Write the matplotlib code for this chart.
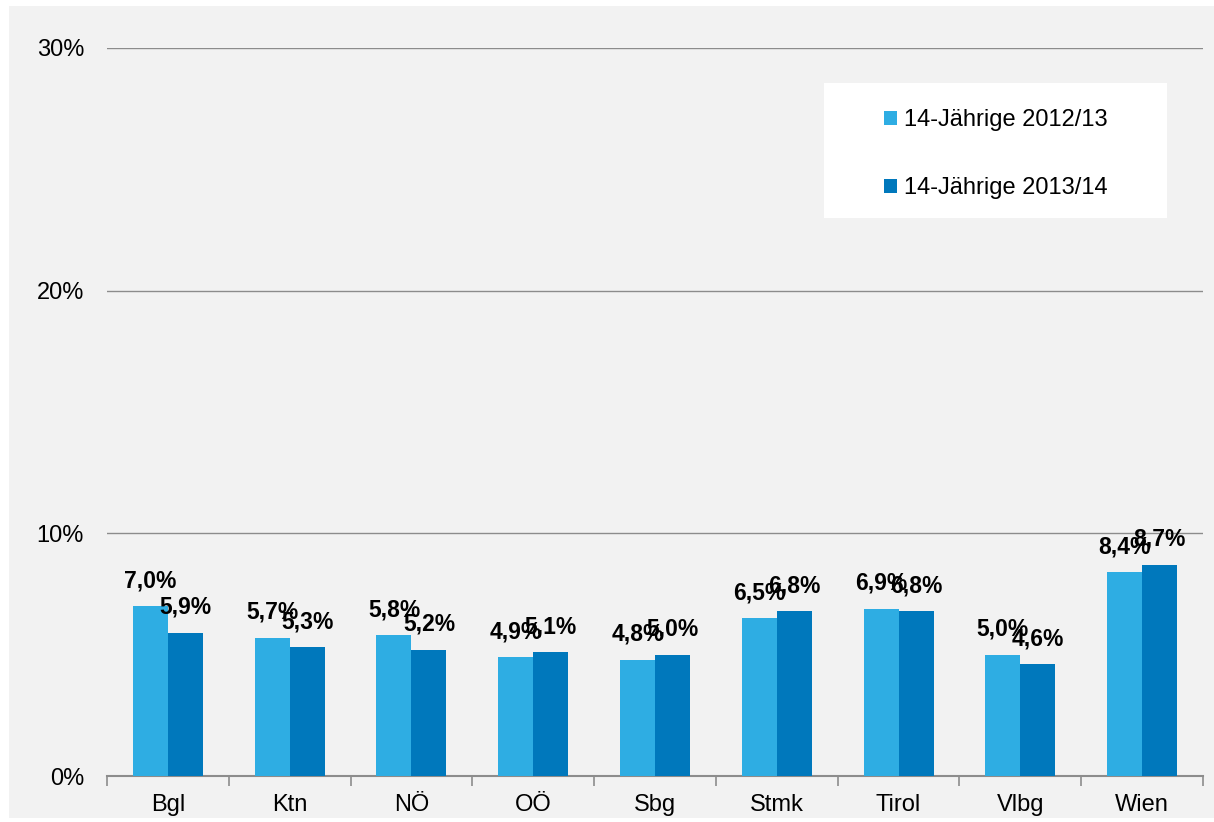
import matplotlib
matplotlib.use("Agg")
import matplotlib.pyplot as plt
import numpy as np
from matplotlib.patches import Rectangle
from matplotlib.ticker import FixedLocator, PercentFormatter

plt.rcParams["font.family"] = ["Liberation Sans", "DejaVu Sans"]

regions = ["Bgl", "Ktn", "NÖ", "OÖ", "Sbg", "Stmk", "Tirol", "Vlbg", "Wien"]
share_2012 = [7.0, 5.7, 5.8, 4.9, 4.8, 6.5, 6.9, 5.0, 8.4]
share_2013 = [5.9, 5.3, 5.2, 5.1, 5.0, 6.8, 6.8, 4.6, 8.7]
series_names = ["14-Jährige 2012/13", "14-Jährige 2013/14"]

LIGHT = "#2eade3"
DARK = "#0078bc"
BG = "#f2f2f2"
GRID = "#8c8c8c"

W, H = 1214, 822
fig = plt.figure(figsize=(W / 100, H / 100), dpi=100)
fig.patch.set_facecolor("white")
# grey chart area, drawn behind the axes
fig.patches.append(Rectangle((9 / W, 4 / H), 1 - 9 / W, 1 - 10 / H,
                             transform=fig.transFigure, facecolor=BG,
                             edgecolor="none", zorder=-10))
# white legend panel
fig.patches.append(Rectangle((824 / W, 1 - 218 / H), (1167 - 824) / W, (218 - 83) / H,
                             transform=fig.transFigure, facecolor="white",
                             edgecolor="none", zorder=-5))

ax = fig.add_axes([107 / W, 1 - 776 / H, (1203 - 107) / W, (776 - 48) / H])
ax.set_facecolor("none")

x = np.arange(len(regions))
bw = 0.287
b1 = ax.bar(x - bw / 2, share_2012, bw, color=LIGHT, zorder=3, label=series_names[0])
b2 = ax.bar(x + bw / 2, share_2013, bw, color=DARK, zorder=3, label=series_names[1])

for bars, vals in [(b1, share_2012), (b2, share_2013)]:
    for b, v in zip(bars, vals):
        ax.annotate(f"{v:.1f}%".replace(".", ","),
                    (b.get_x() + b.get_width() / 2, v),
                    xytext=(0, 10), textcoords="offset points",
                    ha="center", va="bottom", fontsize=16.5,
                    fontweight="bold", color="black", zorder=4)

ax.set_xlim(-0.5, len(regions) - 0.5)
ax.set_ylim(0, 30)
ax.yaxis.set_major_locator(FixedLocator([0, 10, 20, 30]))
ax.yaxis.set_major_formatter(PercentFormatter(decimals=0))
ax.grid(axis="y", color=GRID, lw=1.0, zorder=1)
ax.tick_params(axis="y", length=0, pad=16.5, labelsize=17)

ax.set_xticks(x)
ax.set_xticklabels(regions)
ax.set_xticks(np.arange(len(regions) + 1) - 0.5, minor=True)
ax.tick_params(axis="x", which="major", length=0, pad=13, labelsize=17)
ax.tick_params(axis="x", which="minor", length=7, color=GRID, width=1.2)

for s in ["left", "right", "top"]:
    ax.spines[s].set_visible(False)
ax.spines["bottom"].set_color(GRID)
ax.spines["bottom"].set_linewidth(1.5)

leg = ax.legend(loc="upper left", bbox_to_anchor=(884 / W, 1 - 109 / H),
                bbox_transform=fig.transFigure,
                frameon=False, fontsize=17, handlelength=0.55,
                handleheight=0.55, handletextpad=0.3, labelspacing=1.95,
                borderpad=0, borderaxespad=0)

fig.savefig("out.png", dpi=100, facecolor="white")
